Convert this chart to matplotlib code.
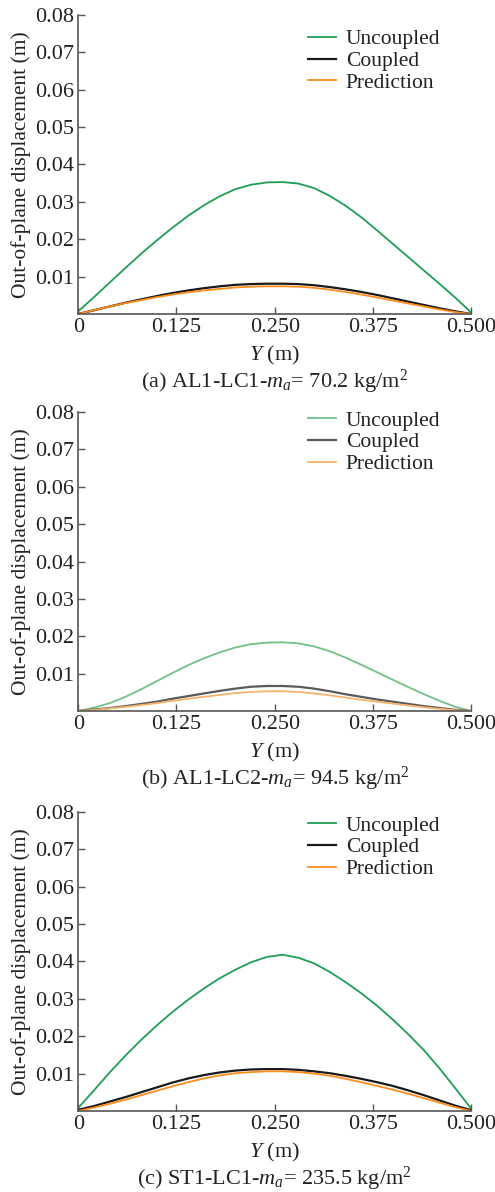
import matplotlib
matplotlib.use("Agg")
import matplotlib.pyplot as plt

plt.rcParams["font.family"] = ["Liberation Serif", "DejaVu Serif"]
plt.rcParams["mathtext.fontset"] = "custom"
plt.rcParams["mathtext.rm"] = "Liberation Serif"
plt.rcParams["mathtext.it"] = "Liberation Serif:italic"

# posicoes ao longo de Y (m)
y_pos = [0.00, 0.02, 0.04, 0.06, 0.08, 0.10, 0.12, 0.14, 0.16, 0.18, 0.20, 0.22, 0.24,
         0.26, 0.28, 0.30, 0.32, 0.34, 0.36, 0.38, 0.40, 0.42, 0.44, 0.46, 0.48, 0.50]

# (a) AL1-LC1
a_uncoupled = [0.0007, 0.0045, 0.0084, 0.0123, 0.0161, 0.0197, 0.0231, 0.0263, 0.0291,
               0.0315, 0.0334, 0.0346, 0.0352, 0.0353, 0.0349, 0.0337, 0.0316, 0.0290,
               0.0259, 0.0224, 0.0188, 0.0152, 0.0116, 0.0080, 0.0043, 0.0004]
a_coupled = [0.0, 0.0010, 0.0020, 0.0030, 0.0039, 0.0048, 0.0056, 0.0063, 0.0069,
             0.0074, 0.0078, 0.0080, 0.0081, 0.0081, 0.0080, 0.0077, 0.0072, 0.0066,
             0.0059, 0.0051, 0.0042, 0.0033, 0.0024, 0.0015, 0.0007, 0.0]
a_prediction = [0.0, 0.0010, 0.0020, 0.0029, 0.0037, 0.0045, 0.0052, 0.0058, 0.0063,
                0.0067, 0.0071, 0.0073, 0.0074, 0.0074, 0.0073, 0.0070, 0.0065, 0.0059,
                0.0052, 0.0044, 0.0036, 0.0028, 0.0020, 0.0012, 0.0005, 0.0]

# (b) AL1-LC2
b_uncoupled = [0.0, 0.0009, 0.0021, 0.0038, 0.0058, 0.0080, 0.0102, 0.0123, 0.0141,
               0.0157, 0.0170, 0.0179, 0.0183, 0.0184, 0.0181, 0.0173, 0.0160, 0.0143,
               0.0124, 0.0104, 0.0084, 0.0064, 0.0045, 0.0027, 0.0011, 0.0]
b_coupled = [0.0, 0.0004, 0.0008, 0.0013, 0.0019, 0.0025, 0.0033, 0.0040, 0.0047,
             0.0054, 0.0060, 0.0065, 0.0067, 0.0067, 0.0065, 0.0060, 0.0053, 0.0045,
             0.0038, 0.0031, 0.0025, 0.0019, 0.0013, 0.0008, 0.0003, 0.0]
b_prediction = [0.0, 0.0003, 0.0007, 0.0011, 0.0016, 0.0021, 0.0027, 0.0033, 0.0038,
                0.0043, 0.0048, 0.0051, 0.0053, 0.0053, 0.0051, 0.0047, 0.0042, 0.0036,
                0.0030, 0.0025, 0.0020, 0.0015, 0.0010, 0.0006, 0.0002, 0.0]

# (c) ST1-LC1
c_uncoupled = [0.0008, 0.0055, 0.0103, 0.0148, 0.0190, 0.0229, 0.0265, 0.0298, 0.0328,
               0.0355, 0.0378, 0.0398, 0.0412, 0.0418, 0.0410, 0.0395, 0.0372, 0.0345,
               0.0315, 0.0282, 0.0245, 0.0205, 0.0162, 0.0113, 0.0060, 0.0006]
c_coupled = [0.0003, 0.0013, 0.0025, 0.0037, 0.0050, 0.0063, 0.0076, 0.0087, 0.0096,
             0.0103, 0.0108, 0.0111, 0.0112, 0.0112, 0.0110, 0.0106, 0.0101, 0.0094,
             0.0086, 0.0077, 0.0067, 0.0055, 0.0042, 0.0028, 0.0014, 0.0002]
c_prediction = [0.0, 0.0009, 0.0019, 0.0030, 0.0042, 0.0054, 0.0066, 0.0077, 0.0087,
                0.0095, 0.0101, 0.0104, 0.0106, 0.0106, 0.0104, 0.0100, 0.0094, 0.0086,
                0.0077, 0.0067, 0.0057, 0.0046, 0.0034, 0.0022, 0.0010, 0.0]

legendas = ["Uncoupled", "Coupled", "Prediction"]
legendas_cores = ["#1f9d55", "#1a1a1a", "#ff8c1a"]
legendas_cores_claras = ["#72bf88", "#5a5a5a", "#f7b26a"]
larguras = [1.3, 1.6, 1.3]

paineis = [
    ("(a) AL1-LC1-$m_a$= 70.2 kg/m$^2$", [a_uncoupled, a_coupled, a_prediction], False, 0.952),
    ("(b) AL1-LC2-$m_a$= 94.5 kg/m$^2$", [b_uncoupled, b_coupled, b_prediction], True, 1.005),
    ("(c) ST1-LC1-$m_a$= 235.5 kg/m$^2$", [c_uncoupled, c_coupled, c_prediction], False, 0.988),
]
bottoms = [0.7366, 0.4035, 0.068]

fig = plt.figure(figsize=(4.95, 11.92), dpi=100)

for (titulo, series, claro, leg_y), bottom in zip(paineis, bottoms):
    ax = fig.add_axes([0.158, bottom, 0.794, 0.2508])
    cores = legendas_cores_claras if claro else legendas_cores
    for serie, nome, cor, lw in zip(series, legendas, cores, larguras):
        ax.plot(y_pos, serie, color=cor, linewidth=lw, label=nome)

    ax.set_xlim(0, 0.5)
    ax.set_ylim(0, 0.08)
    ax.set_xticks([0, 0.125, 0.25, 0.375, 0.5])
    ax.set_xticklabels(["0", "0.125", "0.250", "0.375", "0.500"])
    ax.set_yticks([0.01, 0.02, 0.03, 0.04, 0.05, 0.06, 0.07, 0.08])
    ax.set_yticklabels([f"{v:.2f}" for v in ax.get_yticks()])
    ax.tick_params(direction="in", length=5, width=1, color="#555555",
                   labelsize=16, labelcolor="#222222")
    ax.tick_params(axis="x", pad=3)
    ax.tick_params(axis="y", pad=3)
    for lado in ["top", "right"]:
        ax.spines[lado].set_visible(False)
    for lado in ["left", "bottom"]:
        ax.spines[lado].set_color("#555555")
        ax.spines[lado].set_linewidth(1.2)

    ax.set_ylabel("Out-of-plane displacement (m)", fontsize=15.5, color="#222222", labelpad=3)
    ax.set_xlabel("$Y$ (m)", fontsize=16, color="#222222")
    ax.xaxis.label.set_va("center")
    ax.xaxis.set_label_coords(0.5, -0.14)

    ax.text(0.5, -0.227, titulo, transform=ax.transAxes, ha="center", va="center",
            fontsize=16, color="#222222")

    leg = ax.legend(loc="upper left", bbox_to_anchor=(0.585, leg_y), frameon=False,
                    fontsize=15.5, handlelength=1.3, handletextpad=0.45,
                    labelspacing=0.08, borderpad=0, borderaxespad=0)
    for txt in leg.get_texts():
        txt.set_color("#222222")

fig.savefig("out.png", dpi=100)
